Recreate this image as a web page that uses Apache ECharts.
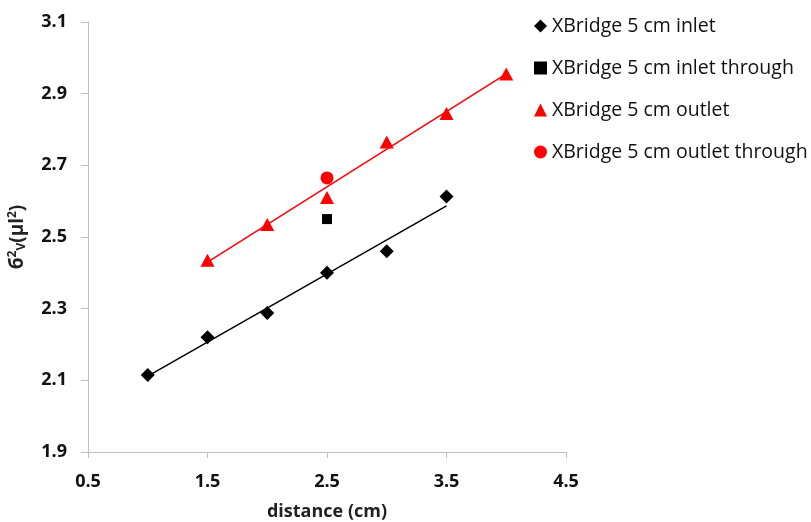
<!DOCTYPE html>
<html>
<head>
<meta charset="utf-8">
<script src="https://cdn.jsdelivr.net/npm/echarts@6/dist/echarts.min.js"></script>
<style>
  html, body { margin: 0; padding: 0; background: #fff; }
  #chart { width: 811px; height: 522px; }
</style>
</head>
<body>
<div id="chart"></div>
<script>
// values
const inletX = [1, 1.5, 2, 2.5, 3, 3.5]
const inletY = [2.115, 2.22, 2.288, 2.4, 2.46, 2.613]
const inletThroughX = [2.5]
const inletThroughY = [2.55]
const outletX = [1.5, 2, 2.5, 3, 3.5, 4]
const outletY = [2.435, 2.535, 2.61, 2.765, 2.845, 2.955]
const outletThroughX = [2.5]
const outletThroughY = [2.665]
// trend line end points (linear fits drawn in the original)
const inletTrend = [[1, 2.112], [3.5, 2.587]]
const outletTrend = [[1.5, 2.43], [4, 2.955]]

const seriesNames = [
  'XBridge 5 cm inlet',
  'XBridge 5 cm inlet through',
  'XBridge 5 cm outlet',
  'XBridge 5 cm outlet through',
]

const zip = (xs, ys) => xs.map((x, i) => [x, ys[i]])

const font = '"Open Sans", "Noto Sans", sans-serif'
const axisGrey = '#bfbfbf'

const chart = echarts.init(document.getElementById('chart'), null, { renderer: 'canvas' })

chart.setOption({
  animation: false,
  backgroundColor: '#fff',
  textStyle: { fontFamily: font },
  grid: { left: 88, right: 245, top: 22, bottom: 70, containLabel: false, outerBoundsMode: 'none' },
  legend: {
    data: seriesNames,
    orient: 'vertical',
    left: 529,
    top: 11,
    itemGap: 22,
    itemWidth: 13,
    itemHeight: 13,
    textStyle: { fontSize: 19.5, color: '#111', fontFamily: font, padding: [0, 0, 0, 0] },
  },
  xAxis: {
    type: 'value',
    min: 0.5,
    max: 4.5,
    interval: 1,
    name: 'distance (cm)',
    nameLocation: 'middle',
    nameGap: 51,
    nameTextStyle: { fontSize: 18, fontWeight: 'bold', color: '#222', fontFamily: font },
    axisLine: { show: true, onZero: false, lineStyle: { color: axisGrey, width: 1 } },
    axisTick: { show: true, inside: false, length: 6, lineStyle: { color: axisGrey } },
    axisLabel: { fontSize: 18, fontWeight: 'bold', color: '#111', margin: 21, fontFamily: font,
      formatter: (v) => v.toFixed(1) },
    splitLine: { show: false },
  },
  yAxis: {
    type: 'value',
    min: 1.9,
    max: 3.1,
    interval: 0.2,
    name: '{b|б}{sup|2}{sub|V}{b|(μl}{sup|2}{b|)}',
    nameLocation: 'middle',
    nameGap: 60,
    nameRotate: 90,
    nameTextStyle: {
      color: '#222',
      fontFamily: font,
      rich: {
        b: { fontSize: 19, fontWeight: 'bold', color: '#222', fontFamily: font },
        sup: { fontSize: 12, fontWeight: 'bold', color: '#222', fontFamily: font, padding: [0, 0, 9, 0] },
        sub: { fontSize: 12, fontWeight: 'bold', color: '#222', fontFamily: font, padding: [9, 0, 0, 0] },
      },
    },
    axisLine: { show: true, onZero: false, lineStyle: { color: axisGrey, width: 1 } },
    axisTick: { show: true, inside: false, length: 7, lineStyle: { color: axisGrey } },
    axisLabel: { fontSize: 18, fontWeight: 'bold', color: '#111', margin: 21, fontFamily: font,
      formatter: (v) => v.toFixed(1) },
    splitLine: { show: false },
  },
  series: [
    {
      name: 'inlet trend',
      type: 'line',
      data: inletTrend,
      symbol: 'none',
      lineStyle: { color: '#000', width: 1.5 },
      silent: true,
      z: 1,
    },
    {
      name: 'outlet trend',
      type: 'line',
      data: outletTrend,
      symbol: 'none',
      lineStyle: { color: '#ff0000', width: 1.5 },
      silent: true,
      z: 1,
    },
    {
      name: seriesNames[0],
      type: 'scatter',
      data: zip(inletX, inletY),
      symbol: 'diamond',
      symbolSize: [14, 14],
      itemStyle: { color: '#000', opacity: 1 },
      z: 3,
    },
    {
      name: seriesNames[1],
      type: 'scatter',
      data: zip(inletThroughX, inletThroughY),
      symbol: 'rect',
      symbolSize: 10,
      itemStyle: { color: '#000', opacity: 1 },
      z: 3,
    },
    {
      name: seriesNames[2],
      type: 'scatter',
      data: zip(outletX, outletY),
      symbol: 'triangle',
      symbolSize: [14, 13],
      itemStyle: { color: '#ff0000', opacity: 1 },
      z: 3,
    },
    {
      name: seriesNames[3],
      type: 'scatter',
      data: zip(outletThroughX, outletThroughY),
      symbol: 'circle',
      symbolSize: 13,
      itemStyle: { color: '#ff0000', opacity: 1 },
      z: 3,
    },
  ],
})
</script>
</body>
</html>
